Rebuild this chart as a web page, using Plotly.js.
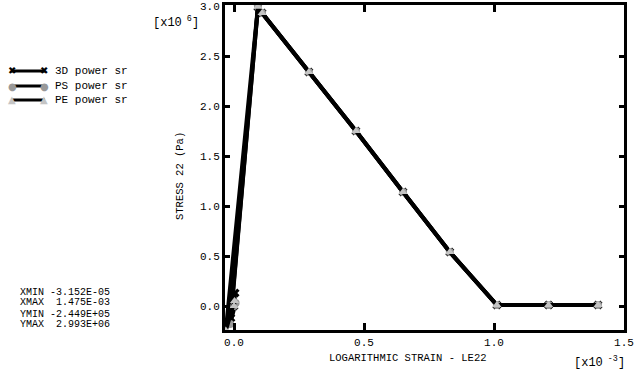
<!DOCTYPE html>
<html><head><meta charset="utf-8">
<script src="https://cdn.plot.ly/plotly-3.0.1.min.js"></script>
<style>body{margin:0;background:#fff}#c{width:635px;height:373px}</style>
</head><body><div id="c"></div>
<script>
// strain in units of 1e-3, stress in units of 1e6 Pa
const seriesNames = ["3D power sr", "PS power sr", "PE power sr"];
const x3D = [0, 0.004, -0.012, 0.092, 0.108, 0.288, 0.469, 0.650, 0.830, 1.011, 1.210, 1.400];
const y3D = [0, 0.13, -0.12, 2.99, 2.93, 2.34, 1.75, 1.14, 0.54, 0.01, 0.01, 0.01];
const xPS = [0, 0.006, -0.015, 0.092, 0.108, 0.288, 0.469, 0.650, 0.830, 1.011, 1.210, 1.400];
const yPS = [0, 0.03, -0.18, 2.99, 2.93, 2.34, 1.75, 1.14, 0.54, 0.01, 0.01, 0.01];
const xPE = [0, 0.002, -0.0315, 0.092, 0.108, 0.288, 0.469, 0.650, 0.830, 1.011, 1.210, 1.400];
const yPE = [0, 0.05, -0.245, 2.993, 2.93, 2.34, 1.75, 1.14, 0.54, 0.01, 0.01, 0.01];
const xTicks = [0, 0.5, 1.0, 1.5];
const xTickText = ["0.0", "0.5", "1.0", "1.5"];
const yTicks = [0, 0.5, 1.0, 1.5, 2.0, 2.5, 3.0];
const yTickText = ["0.0", "0.5", "1.0", "1.5", "2.0", "2.5", "3.0"];
const statLines = ["XMIN -3.152E-05", "XMAX  1.475E-03", "YMIN -2.449E+05", "YMAX  2.993E+06"];

const F = "Liberation Mono, DejaVu Sans Mono, monospace";
const W = 635, H = 373, ML = 225, MR = 11, MT = 5, MB = 43;
const PW = W - ML - MR, PH = H - MT - MB;
const px = v => (v - ML) / PW;
const py = v => (H - MB - v) / PH;

const styles = [
  {symbol: "x", color: "#000000", size: 8},
  {symbol: "circle", color: "#999999", size: 8},
  {symbol: "triangle-up", color: "#c4c4c4", size: 8}
];
const xs = [x3D, xPS, xPE], ys = [y3D, yPS, yPE];
const traces = xs.map((x, i) => ({
  x: x, y: ys[i], type: "scatter", mode: "lines+markers", name: seriesNames[i],
  line: {color: "#000", width: 4},
  marker: {symbol: styles[i].symbol, color: styles[i].color, size: styles[i].size,
           line: {width: 0}},
  showlegend: false, hoverinfo: "skip"
}));

const shapes = [], annotations = [];
const legY = [71, 86, 100];
const glyph = ["✖", "●", "▲"];
legY.forEach((yy, i) => {
  shapes.push({type: "line", xref: "paper", yref: "paper", x0: px(11), x1: px(45), y0: py(yy), y1: py(yy),
               line: {color: "#000", width: 3}});
  [12, 44].forEach(xx => annotations.push({xref: "paper", yref: "paper", x: px(xx), y: py(yy),
    text: glyph[i], showarrow: false, xanchor: "center", yanchor: "middle",
    font: {family: "DejaVu Sans", size: 10, color: styles[i].color}}));
  annotations.push({xref: "paper", yref: "paper", x: px(53), y: py(yy), text: seriesNames[i],
    showarrow: false, xanchor: "left", yanchor: "middle", font: {family: F, size: 11, color: "#000"}});
});
const statY = [292, 302, 314, 324];
statLines.forEach((t, i) => annotations.push({xref: "paper", yref: "paper", x: px(18), y: py(statY[i]),
  text: t.replace(/ /g, "&nbsp;"), showarrow: false, xanchor: "left", yanchor: "middle",
  font: {family: F, size: 10, color: "#000"}}));
annotations.push({xref: "paper", yref: "paper", x: px(180), y: py(176), text: "STRESS 22 (Pa)",
  textangle: -90, showarrow: false, xanchor: "center", yanchor: "middle", font: {family: F, size: 10.5, color: "#000"}});
annotations.push({xref: "paper", yref: "paper", x: px(408), y: py(358), text: "LOGARITHMIC STRAIN - LE22",
  showarrow: false, xanchor: "center", yanchor: "middle", font: {family: F, size: 10.5, color: "#000"}});
annotations.push({xref: "paper", yref: "paper", x: px(201), y: py(22), text: "[x10<sup> 6</sup>]",
  showarrow: false, xanchor: "right", yanchor: "middle", font: {family: F, size: 12, color: "#000"}});
annotations.push({xref: "paper", yref: "paper", x: px(627), y: py(362), text: "[x10<sup> -3</sup>]",
  showarrow: false, xanchor: "right", yanchor: "middle", font: {family: F, size: 12, color: "#000"}});

const layout = {
  width: W, height: H, margin: {l: ML, r: MR, t: MT, b: MB, pad: 0},
  paper_bgcolor: "#fff", plot_bgcolor: "#fff", showlegend: false,
  font: {family: F, size: 11, color: "#000"},
  xaxis: {range: [-0.0346, 1.5], tickvals: xTicks, ticktext: xTickText, showgrid: false, zeroline: false,
          showline: true, linewidth: 3, linecolor: "#000", mirror: "ticks", ticks: "inside", ticklen: 7,
          tickwidth: 3, tickcolor: "#000", tickfont: {family: F, size: 11}},
  yaxis: {range: [-0.24, 3.01], tickvals: yTicks, ticktext: yTickText, showgrid: false, zeroline: false,
          showline: true, linewidth: 3, linecolor: "#000", mirror: "ticks", ticks: "inside", ticklen: 5,
          tickwidth: 3, tickcolor: "#000", tickfont: {family: F, size: 11}},
  shapes: shapes, annotations: annotations
};
Plotly.newPlot("c", traces, layout, {staticPlot: true, displayModeBar: false});
</script></body></html>
